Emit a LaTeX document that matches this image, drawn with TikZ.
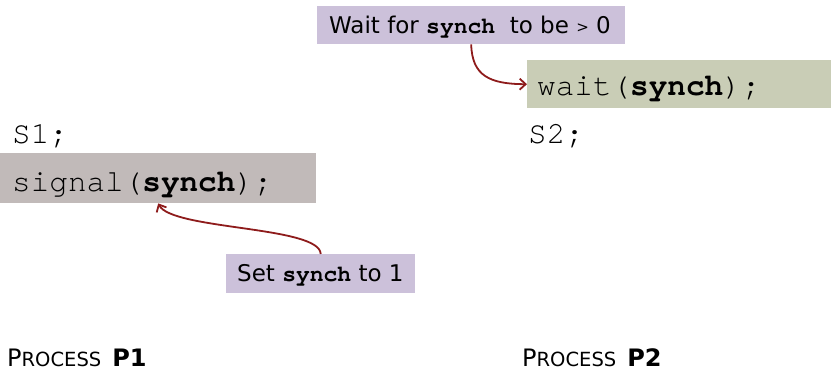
\documentclass[tikz,border=0pt]{standalone}
\usepackage{fontspec}
\setmainfont{DejaVu Sans}
\newfontfamily\codefont[BoldFont=texgyrecursor-bold.otf]{texgyrecursor-regular.otf}
\usetikzlibrary{arrows.meta}
\definecolor{lav}{HTML}{CCC1DA}
\definecolor{sage}{HTML}{C9CDB6}
\definecolor{taupe}{HTML}{C1BAB9}
\definecolor{arrowred}{HTML}{8E1B1B}
\tikzset{
  box/.style={draw=none, inner sep=0pt, anchor=north west},
  code/.style={inner sep=0pt, anchor=base west, font=\codefont\fontsize{31}{36}\selectfont},
  note/.style={inner sep=0pt, anchor=base west, font=\fontsize{23}{26}\selectfont},
  proc/.style={inner sep=0pt, anchor=base west},
  link/.style={draw=arrowred, line width=1.8pt, -{Straight Barb[length=6pt,width=11pt,line width=1.8pt]}}
}
\newcommand{\syn}{{\codefont\bfseries\fontsize{23}{24}\selectfont synch}}
\newcommand{\procl}[1]{{\fontsize{24}{28}\selectfont P}{\fontsize{19.5}{22}\selectfont ROCESS}\hspace{11pt}{\fontsize{24}{28}\selectfont\bfseries #1}}
\begin{document}
\begin{tikzpicture}[x=1pt,y=-1pt]
\useasboundingbox (0,0) rectangle (831,373);
% boxes
\node[box, fill=lav, minimum width=308pt, minimum height=38pt] (wtop) at (317,6) {};
\node[box, fill=sage, minimum width=304pt, minimum height=48pt] (wbox) at (527,60) {};
\node[box, fill=taupe, minimum width=316pt, minimum height=50pt] (gbox) at (0,153) {};
\node[box, fill=lav, minimum width=189pt, minimum height=39pt] (setb) at (226,254) {};
% texts
\node[note] (wtxt) at (329,33) {Wait for \syn\ \ to be \raisebox{1pt}{\fontsize{15}{16}\selectfont >} 0};
\node[code] (wait) at (537,95) {wait(\textbf{synch});};
\node[code] (s1) at (12,143) {S1;};
\node[code] (s2) at (528,143) {S2;};
\node[code] (sig) at (12,191) {signal(\textbf{synch});};
\node[note] (settxt) at (237,281) {Set \syn\ to 1};
\node[proc] (p1) at (7,366) {\procl{P1}};
\node[proc] (p2) at (522,366) {\procl{P2}};
% connectors
\draw[link] (wtop.south) .. controls (472,76) and (490,84) .. (wbox.west);
\draw[link] (setb.north) .. controls (320,226) and (172,230) .. (gbox.south);
\end{tikzpicture}
\end{document}
